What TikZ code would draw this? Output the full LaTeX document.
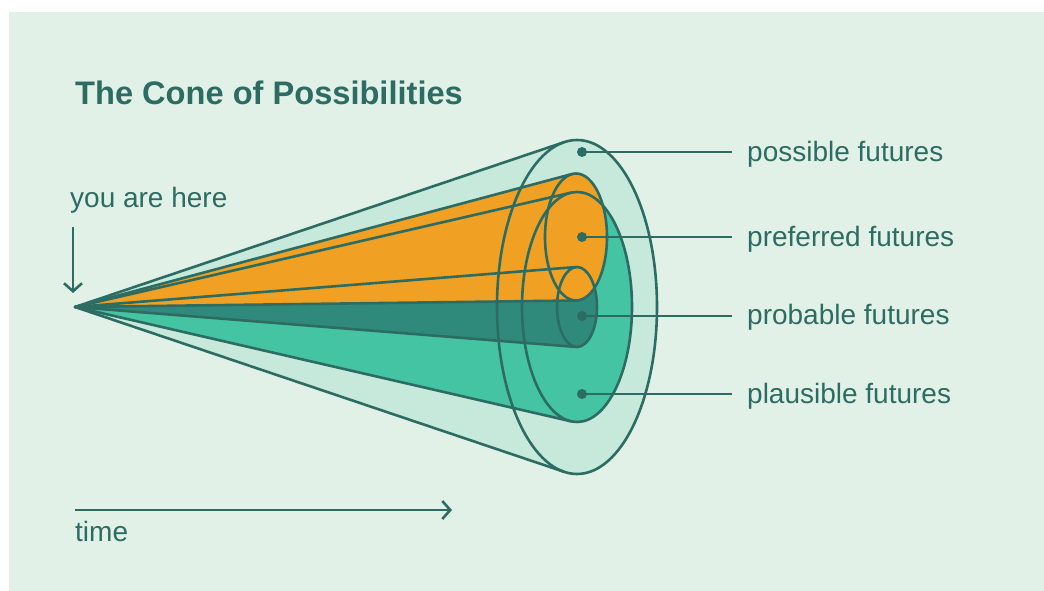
\documentclass[tikz,border=0pt]{standalone}
\usepackage{fontspec}
\setmainfont{Liberation Sans}
\usetikzlibrary{arrows.meta,positioning,calc}
\definecolor{bgmint}{HTML}{E1F1E7}
\definecolor{conelight}{HTML}{C6E9DB}
\definecolor{futorange}{HTML}{F0A022}
\definecolor{futgreen}{HTML}{45C4A3}
\definecolor{futdark}{HTML}{2F8A7C}
\definecolor{inkteal}{HTML}{2D6C62}
\tikzset{
	outline/.style={
		draw=inkteal,
		line width=2.6pt,
		line join=round,
	},
	tag/.style={
		text=inkteal,
		font=\fontsize{28}{34}\selectfont,
		anchor=base west,
		inner sep=0pt,
	},
	dot/.style={
		circle,
		fill=inkteal,
		inner sep=0pt,
		minimum size=10pt,
	},
	pointer/.style={
		draw=inkteal,
		line width=2.6pt,
		-{Straight Barb[length=8pt,width=18pt,line width=2.6pt]},
	},
}

\begin{document}
\begin{tikzpicture}[x=1pt,y=1pt]
	\useasboundingbox (0,0) rectangle (1044,591);
	\fill[white] (0,0) rectangle (1044,591);
	\fill[bgmint] (9,0) rectangle (1044,579);

	\node[tag,font=\fontsize{32.6}{38}\selectfont\bfseries] (title) at (75,486) {The Cone of Possibilities};

	\coordinate (apex) at (75,284);

	% cones: centre x/y, radii, tangent angles, fill
	\foreach \cx/\cy/\rx/\ry/\ta/\tb/\col in {
		577/284/80/167/99.17/-99.17/conelight,
		577/284/55/115/96.29/-96.29/futgreen,
		577/284/20/40/92.28/-92.28/futdark,
		576/354/31/63.5/97.4/-89.6/futorange}
		\fill[\col] (apex) -- ($(\cx,\cy)+(\ta:{\rx} and {\ry})$)
			arc[start angle=\ta,end angle=\tb,x radius=\rx,y radius=\ry] -- cycle;

	\foreach \cx/\cy/\rx/\ry/\ta/\tb in {
		577/284/80/167/99.17/-99.17,
		577/284/55/115/96.29/-96.29,
		577/284/20/40/92.28/-92.28,
		576/354/31/63.5/97.4/-89.6}
	{
		\draw[outline] ($(\cx,\cy)+(\ta:{\rx} and {\ry})$) -- (apex) -- ($(\cx,\cy)+(\tb:{\rx} and {\ry})$);
		\draw[outline] (\cx,\cy) ellipse[x radius=\rx,y radius=\ry];
	}

	% labels
	\node[dot] (d-possible) at (582,439) {};
	\node[dot] (d-preferred) at (582,354) {};
	\node[dot] (d-probable) at (582,275) {};
	\node[dot] (d-plausible) at (582,197) {};
	\node[tag] (possible) at (747,429) {possible futures};
	\node[tag] (preferred) at (747,344) {preferred futures};
	\node[tag] (probable) at (747,266) {probable futures};
	\node[tag] (plausible) at (747,187) {plausible futures};
	\foreach \f in {possible,preferred,probable,plausible}
		\draw[outline] (d-\f.center) -- (d-\f.center -| 732,0);

	\node[tag] (here) at (70,383) {you are here};
	\coordinate (here-top) at (73,364);
	\draw[pointer] (here-top) -- (73,298);

	\coordinate (time-start) at (75,81);
	\coordinate (time-end) at (452,81);
	\draw[pointer] (time-start) -- (time-end);
	\node[tag] (time) at (75,49) {time};
\end{tikzpicture}
\end{document}
